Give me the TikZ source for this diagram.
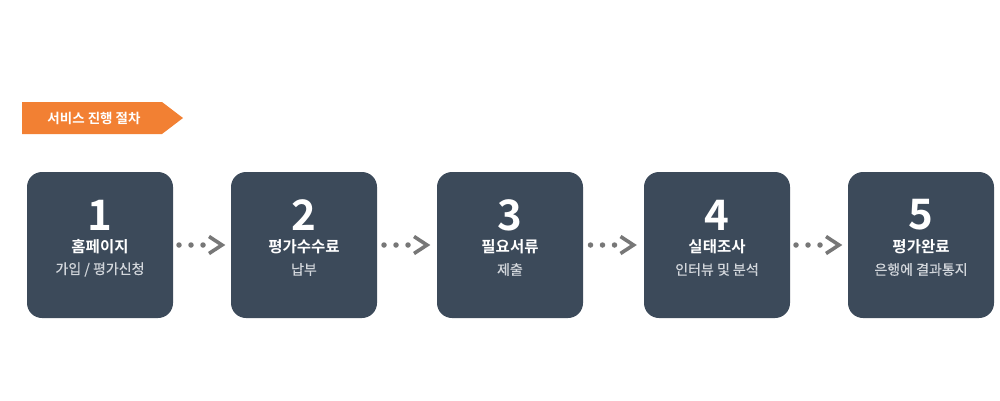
\documentclass[tikz,border=0pt]{standalone}
\usepackage{fontspec}
\newfontfamily\kr[FakeBold=0.5]{Noto Sans CJK KR}
\newfontfamily\krb{Noto Sans CJK KR Bold}
\definecolor{boxc}{HTML}{3C4A5A}
\definecolor{tagc}{HTML}{F28033}
\definecolor{dotc}{HTML}{777777}
\definecolor{subc}{HTML}{D3D7DC}
\tikzset{
  stepbox/.style={fill=boxc, rounded corners=15pt, minimum width=146pt, minimum height=146pt, inner sep=0pt},
  numtxt/.style={text=white, font=\krb\fontsize{42}{42}\selectfont, inner sep=0pt},
  titletxt/.style={text=white, font=\krb\fontsize{15.5}{16}\selectfont, inner sep=0pt},
  subtxt/.style={text=subc, font=\kr\fontsize{14}{15}\selectfont, inner sep=0pt},
  dotsty/.style={fill=dotc, circle, inner sep=0pt, minimum size=5.5pt},
  chev/.style={draw=dotc, line width=3.6pt, line cap=butt, line join=miter}
}
\begin{document}
\begin{tikzpicture}[x=1pt,y=-1pt]
\useasboundingbox (0,0) rectangle (1000,400);
% tag
\fill[tagc] (22,102) -- (162,102) -- (183,118) -- (162,134) -- (22,134) -- cycle;
\node[text=white, font=\krb\fontsize{13.5}{14}\selectfont, inner sep=0pt] (tag) at (94,118.5) {서비스 진행 절차};
% boxes
\foreach \i/\x/\n/\t/\s in {1/100/1/홈페이지/{가입 / 평가신청}, 2/304/2/평가수수료/납부, 3/510/3/필요서류/제출, 4/717/4/실태조사/인터뷰 및 분석, 5/921/5/평가완료/은행에 결과통지}{
  \node[stepbox] (b\i) at (\x,245) {};
  \node[numtxt] (n\i) at (\x,215) {\n};
  \node[titletxt] (t\i) at (\x,246.5) {\t};
  \node[subtxt] (s\i) at (\x,269.5) {\s};
}
% connectors
\foreach \a/\b in {1/2,2/3,3/4,4/5}{
  \path (b\a.east) -- (b\b.west) coordinate[pos=0.5] (m\a);
  \node[dotsty] (d\a a) at ([xshift=-23pt]m\a) {};
  \node[dotsty] (d\a b) at ([xshift=-11pt]m\a) {};
  \node[dotsty] (d\a c) at ([xshift=1pt]m\a) {};
  \coordinate (c\a) at ([xshift=20pt]m\a);
  \draw[chev] ([xshift=-13pt,yshift=-8.5pt]c\a) -- (c\a) -- ([xshift=-13pt,yshift=8.5pt]c\a);
}
\end{tikzpicture}
\end{document}
